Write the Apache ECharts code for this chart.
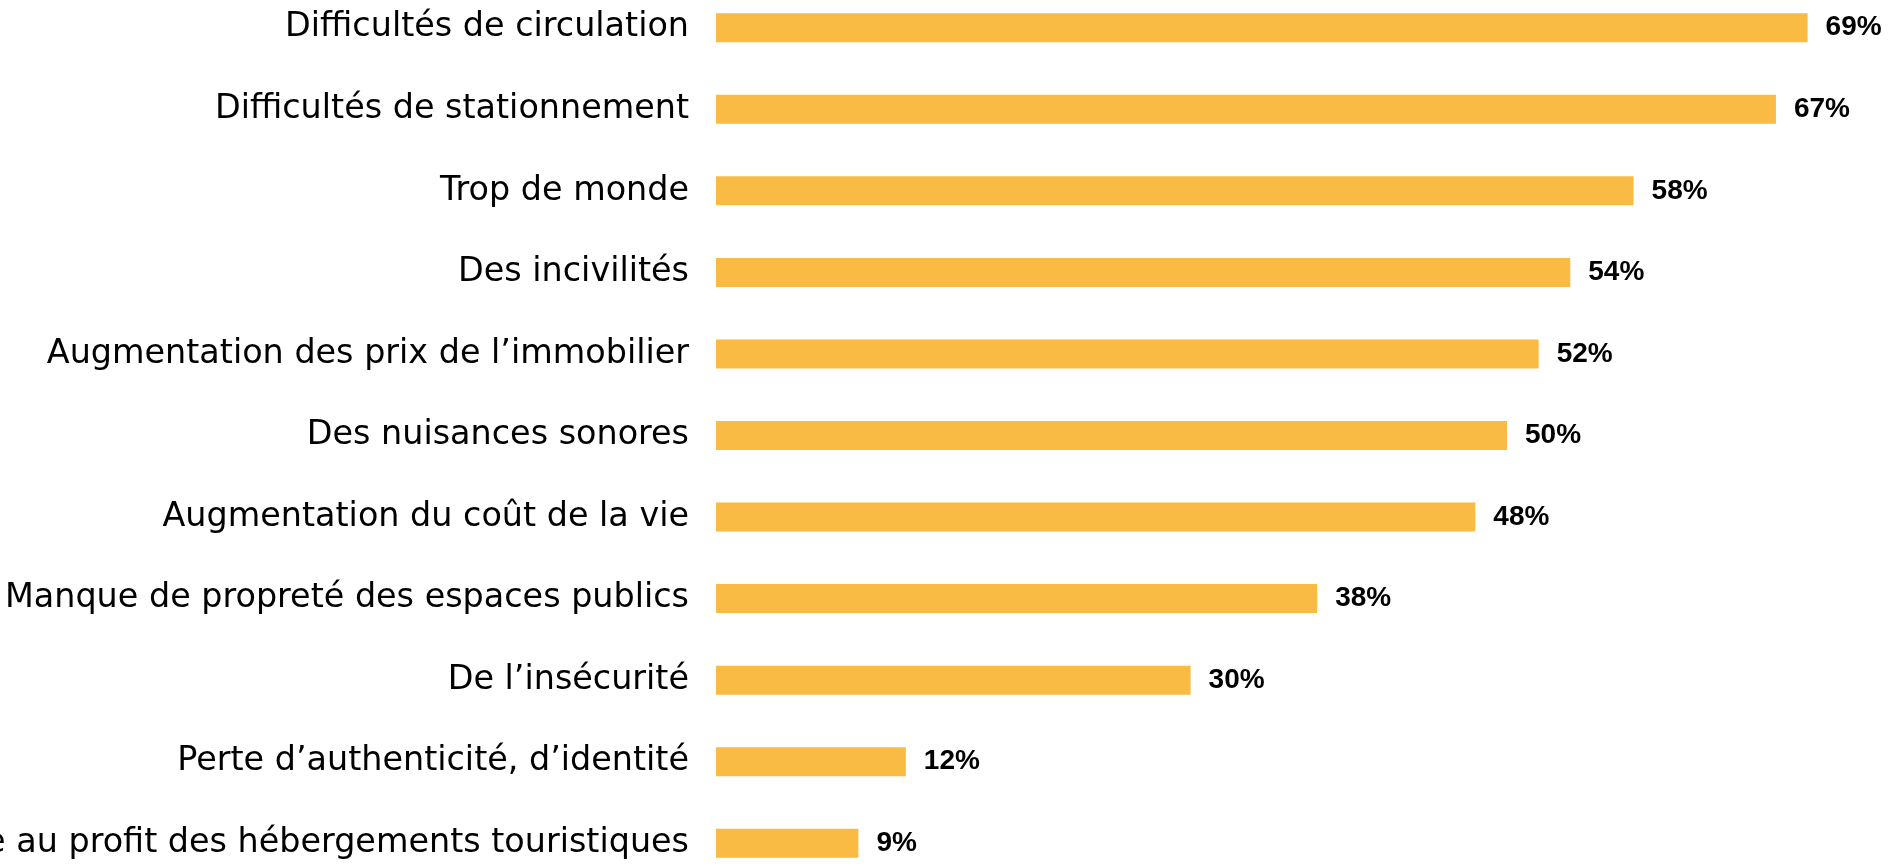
<!DOCTYPE html>
<html><head><meta charset="utf-8">
<script src="https://cdn.jsdelivr.net/npm/echarts@6/dist/echarts.min.js"></script>
<style>html,body{margin:0;padding:0;background:#fff}#chart{width:1890px;height:867px}</style>
</head><body><div id="chart"></div>
<script>
const categories = [
  "Difficultés de circulation",
  "Difficultés de stationnement",
  "Trop de monde",
  "Des incivilités",
  "Augmentation des prix de l\u2019immobilier",
  "Des nuisances sonores",
  "Augmentation du coût de la vie",
  "Manque de propreté des espaces publics",
  "De l\u2019insécurité",
  "Perte d\u2019authenticité, d\u2019identité",
  "Diminution de l\u2019offre de logements à l\u2019année au profit des hébergements touristiques"
];
const values = [69, 67, 58, 54, 52, 50, 48, 38, 30, 12, 9];

const chart = echarts.init(document.getElementById('chart'), null, {renderer: 'canvas'});
chart.setOption({
  animation: false,
  backgroundColor: '#ffffff',
  grid: {left: 716, right: -408, top: -13, bottom: -17, containLabel: false, outerBoundsMode: 'none'},
  xAxis: {type: 'value', min: 0, max: 100, show: false},
  yAxis: {
    type: 'category', data: categories, inverse: true,
    axisLine: {show: false}, axisTick: {show: false}, splitLine: {show: false},
    axisLabel: {margin: 27, color: '#000', fontFamily: 'DejaVu Sans', fontSize: 33.4, interval: 0,
      verticalAlign: 'middle', lineHeight: 40, padding: [8, 0, 0, 0]}
  },
  series: [{
    type: 'bar', data: values, barWidth: 29,
    itemStyle: {color: '#F9BB43'},
    label: {show: true, position: 'right', distance: 18, formatter: '{c}%',
      color: '#000', fontFamily: 'Liberation Sans', fontWeight: 'bold', fontSize: 28,
      padding: [3, 0, 0, 0]}
  }]
});
</script></body></html>
